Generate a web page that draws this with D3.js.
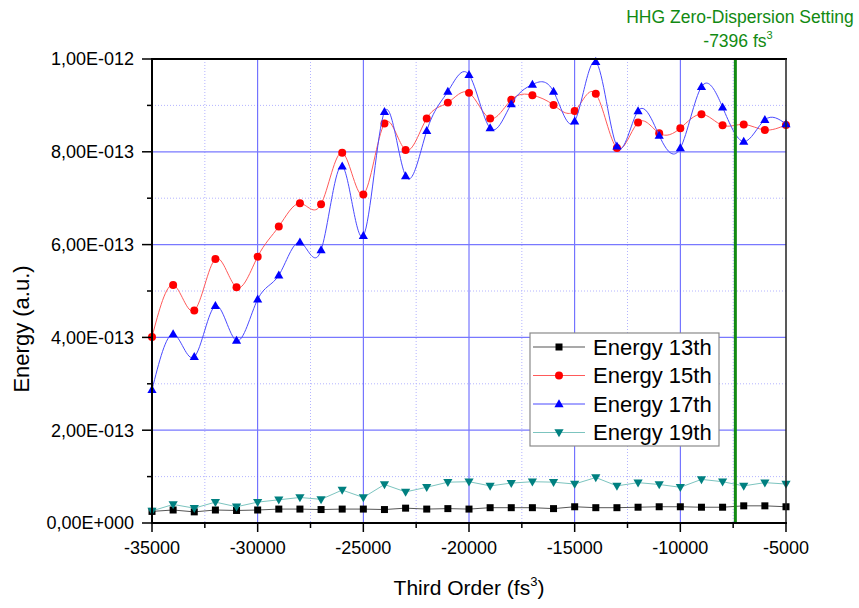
<!DOCTYPE html>
<html>
<head>
<meta charset="utf-8">
<script src="https://cdn.jsdelivr.net/npm/d3@7/dist/d3.min.js"></script>
<style>
  body { margin: 0; background: #fff; }
  svg { display: block; font-family: Arial, "Liberation Sans", sans-serif; }
</style>
</head>
<body>
<svg id="chart" width="859" height="608"></svg>
<script>
// Third-order dispersion settings (fs^3)
const thirdOrder = [-35000, -34000, -33000, -32000, -31000, -30000, -29000, -28000,
  -27000, -26000, -25000, -24000, -23000, -22000, -21000, -20000, -19000, -18000,
  -17000, -16000, -15000, -14000, -13000, -12000, -11000, -10000, -9000, -8000,
  -7000, -6000, -5000];

// Harmonic energies, in units of 1e-13 a.u.
const energy13 = [0.25, 0.28, 0.24, 0.28, 0.27, 0.28, 0.30, 0.30, 0.29, 0.30, 0.30,
  0.29, 0.32, 0.30, 0.31, 0.30, 0.33, 0.33, 0.33, 0.31, 0.35, 0.33, 0.33, 0.34, 0.35,
  0.35, 0.34, 0.34, 0.37, 0.37, 0.35];
const energy15 = [4.01, 5.13, 4.58, 5.69, 5.08, 5.74, 6.39, 6.89, 6.87, 7.98, 7.08,
  8.61, 8.04, 8.72, 9.06, 9.27, 8.72, 9.12, 9.22, 9.01, 8.88, 9.25, 8.08, 8.63, 8.40,
  8.51, 8.81, 8.57, 8.59, 8.47, 8.58];
const energy17 = [2.87, 4.07, 3.58, 4.68, 3.93, 4.82, 5.34, 6.05, 5.88, 7.69, 6.19,
  8.86, 7.48, 8.45, 9.30, 9.66, 8.51, 9.03, 9.45, 9.30, 8.66, 9.94, 8.12, 8.88, 8.35,
  8.08, 9.40, 8.96, 8.22, 8.69, 8.60];
const energy19 = [0.26, 0.40, 0.32, 0.45, 0.35, 0.45, 0.50, 0.55, 0.51, 0.71, 0.55,
  0.83, 0.67, 0.77, 0.88, 0.89, 0.80, 0.86, 0.89, 0.88, 0.84, 0.98, 0.80, 0.87, 0.83,
  0.77, 0.94, 0.89, 0.80, 0.87, 0.84];

const seriesNames = ["Energy 13th", "Energy 15th", "Energy 17th", "Energy 19th"];

// Axis ticks
const xMajorTicks = [-35000, -30000, -25000, -20000, -15000, -10000, -5000];
const xMinorTicks = [-32500, -27500, -22500, -17500, -12500, -7500];
const yMajorTicks = [0, 2, 4, 6, 8, 10];
const yMinorTicks = [1, 3, 5, 7, 9];
const yTickLabels = ["0,00E+000", "2,00E-013", "4,00E-013", "6,00E-013", "8,00E-013", "1,00E-012"];

// Zero-dispersion marker
const zeroDispersion = -7396;

const svg = d3.select("#chart");
const plot = { left: 152, right: 786, top: 59, bottom: 523 };

const x = d3.scaleLinear().domain([-35000, -5000]).range([plot.left, plot.right]);
const y = d3.scaleLinear().domain([0, 10]).range([plot.bottom, plot.top]);

// Grid
const grid = svg.append("g");
grid.selectAll(".vminor").data(xMinorTicks).join("line")
  .attr("x1", d => x(d)).attr("x2", d => x(d)).attr("y1", plot.top).attr("y2", plot.bottom)
  .attr("stroke", "#b4b4ff").attr("stroke-width", 1).attr("stroke-dasharray", "1,2");
grid.selectAll(".hminor").data(yMinorTicks).join("line")
  .attr("x1", plot.left).attr("x2", plot.right).attr("y1", d => y(d)).attr("y2", d => y(d))
  .attr("stroke", "#b4b4ff").attr("stroke-width", 1).attr("stroke-dasharray", "1,2");
grid.selectAll(".vmajor").data(xMajorTicks.slice(1, -1)).join("line")
  .attr("x1", d => x(d)).attr("x2", d => x(d)).attr("y1", plot.top).attr("y2", plot.bottom)
  .attr("stroke", "#5a5aff").attr("stroke-width", 1);
grid.selectAll(".hmajor").data(yMajorTicks.slice(1, -1)).join("line")
  .attr("x1", plot.left).attr("x2", plot.right).attr("y1", d => y(d)).attr("y2", d => y(d))
  .attr("stroke", "#7878ff").attr("stroke-width", 1.2);

// Series
const series = [
  { values: energy13, line: "#555555", fill: "#000000", shape: "square", curve: d3.curveLinear },
  { values: energy15, line: "#ff5a5a", fill: "#ff0000", shape: "circle", curve: d3.curveNatural },
  { values: energy17, line: "#4a4aff", fill: "#0000ff", shape: "up", curve: d3.curveNatural },
  { values: energy19, line: "#7cc4bf", fill: "#008080", shape: "down", curve: d3.curveLinear }
];

function markerPath(shape) {
  if (shape === "square") return "M-3.5,-3.5H3.5V3.5H-3.5Z";
  if (shape === "circle") return d3.symbol(d3.symbolCircle, 50)();
  if (shape === "up") return "M0,-4.8L4.6,3.2L-4.6,3.2Z";
  return "M0,4.8L4.6,-3.2L-4.6,-3.2Z";
}

series.forEach(s => {
  const pts = thirdOrder.map((t, i) => [t, s.values[i]]);
  const line = d3.line().x(d => x(d[0])).y(d => y(d[1])).curve(s.curve);
  svg.append("path").datum(pts).attr("d", line)
    .attr("fill", "none").attr("stroke", s.line).attr("stroke-width", 1);
  svg.append("g").selectAll("path").data(pts).join("path")
    .attr("d", markerPath(s.shape))
    .attr("transform", d => `translate(${x(d[0])},${y(d[1])})`)
    .attr("fill", s.fill);
});

// Zero-dispersion line
svg.append("line")
  .attr("x1", x(zeroDispersion)).attr("x2", x(zeroDispersion))
  .attr("y1", plot.top).attr("y2", plot.bottom)
  .attr("stroke", "#128a12").attr("stroke-width", 3);

// Frame
svg.append("line").attr("x1", plot.left).attr("x2", plot.right + 1)
  .attr("y1", plot.top).attr("y2", plot.top).attr("stroke", "#000").attr("stroke-width", 2);
svg.append("line").attr("x1", plot.right).attr("x2", plot.right)
  .attr("y1", plot.top).attr("y2", plot.bottom).attr("stroke", "#222").attr("stroke-width", 1.5);

// Axes
const xAxis = svg.append("g").attr("transform", `translate(0,${plot.bottom})`);
xAxis.append("line").attr("x1", plot.left - 1).attr("x2", plot.right + 1)
  .attr("stroke", "#000").attr("stroke-width", 2);
xAxis.selectAll(".tmaj").data(xMajorTicks).join("line")
  .attr("x1", d => x(d)).attr("x2", d => x(d)).attr("y1", 0).attr("y2", 9)
  .attr("stroke", "#000").attr("stroke-width", 1.5);
xAxis.selectAll(".tmin").data(xMinorTicks).join("line")
  .attr("x1", d => x(d)).attr("x2", d => x(d)).attr("y1", 0).attr("y2", 5)
  .attr("stroke", "#000").attr("stroke-width", 1.5);
xAxis.selectAll("text").data(xMajorTicks).join("text")
  .attr("x", d => x(d)).attr("y", 31)
  .attr("text-anchor", "middle").attr("font-size", 18).attr("fill", "#000")
  .text(d => d);

const yAxis = svg.append("g").attr("transform", `translate(${plot.left},0)`);
yAxis.append("line").attr("y1", plot.top - 1).attr("y2", plot.bottom + 1)
  .attr("stroke", "#000").attr("stroke-width", 2);
yAxis.selectAll(".tmaj").data(yMajorTicks).join("line")
  .attr("y1", d => y(d)).attr("y2", d => y(d)).attr("x1", 0).attr("x2", -10)
  .attr("stroke", "#000").attr("stroke-width", 1.5);
yAxis.selectAll(".tmin").data(yMinorTicks).join("line")
  .attr("y1", d => y(d)).attr("y2", d => y(d)).attr("x1", 0).attr("x2", -5)
  .attr("stroke", "#000").attr("stroke-width", 1.5);
yAxis.selectAll("text").data(yMajorTicks).join("text")
  .attr("x", -18).attr("y", d => y(d)).attr("dy", "0.35em")
  .attr("text-anchor", "end").attr("font-size", 18).attr("fill", "#000")
  .text((d, i) => yTickLabels[i]);

// Axis titles
const xTitle = svg.append("text").attr("x", (plot.left + plot.right) / 2).attr("y", 595)
  .attr("text-anchor", "middle").attr("font-size", 21).attr("fill", "#000");
xTitle.append("tspan").text("Third Order (fs");
xTitle.append("tspan").attr("font-size", 13).attr("dy", -9).text("3");
xTitle.append("tspan").attr("dy", 9).text(")");

svg.append("text")
  .attr("transform", `translate(29,${(plot.top + plot.bottom) / 2 + 38}) rotate(-90)`)
  .attr("text-anchor", "middle").attr("font-size", 22).attr("fill", "#000")
  .text("Energy (a.u.)");

// Zero-dispersion annotation
const ann = svg.append("g").attr("fill", "#128a12").attr("text-anchor", "middle");
ann.append("text").attr("x", 740).attr("y", 23).attr("font-size", 17.5)
  .text("HHG Zero-Dispersion Setting");
const ann2 = ann.append("text").attr("x", 738).attr("y", 47).attr("font-size", 17.5);
ann2.append("tspan").text("-7396 fs");
ann2.append("tspan").attr("font-size", 11).attr("dy", -8).text("3");

// Legend
const legend = svg.append("g").attr("transform", "translate(530,333)");
legend.append("rect").attr("width", 189).attr("height", 113)
  .attr("fill", "#fff").attr("stroke", "#8a8a8a").attr("stroke-width", 1.2);
series.forEach((s, i) => {
  const cy = 14 + i * 28.5;
  legend.append("line").attr("x1", 3).attr("x2", 55).attr("y1", cy).attr("y2", cy)
    .attr("stroke", s.line).attr("stroke-width", 1.2);
  legend.append("path").attr("d", markerPath(s.shape))
    .attr("transform", `translate(29,${cy})`).attr("fill", s.fill);
  legend.append("text").attr("x", 63).attr("y", cy).attr("dy", "0.36em")
    .attr("font-size", 22).attr("fill", "#000").text(seriesNames[i]);
});
</script>
</body>
</html>
